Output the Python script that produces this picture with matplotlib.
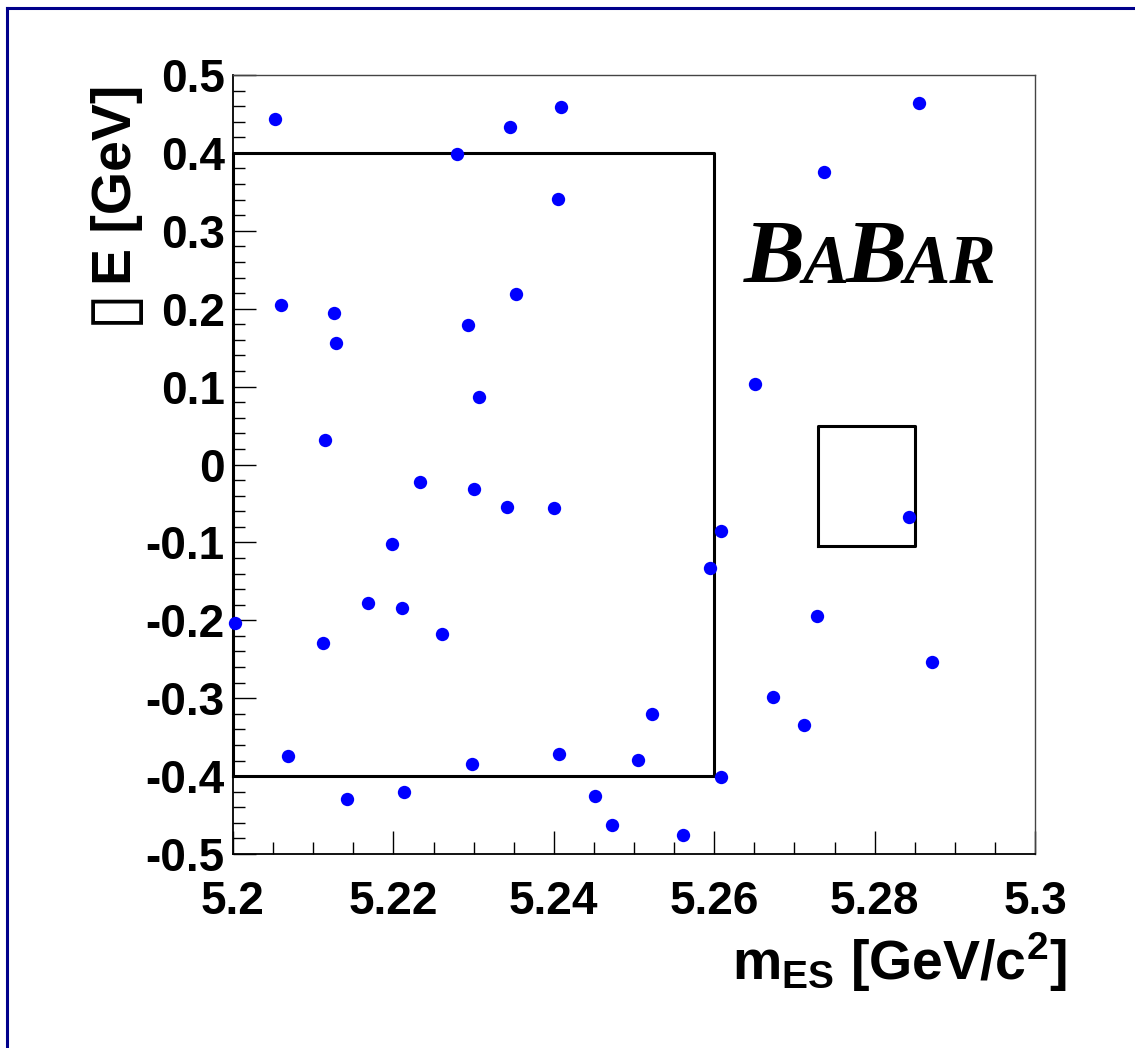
import matplotlib
matplotlib.use('Agg')
import matplotlib.pyplot as plt
from matplotlib.ticker import MultipleLocator
from matplotlib.lines import Line2D

plt.rcParams['font.family'] = ['Liberation Sans', 'DejaVu Sans']
plt.rcParams['font.weight'] = 'bold'
plt.rcParams['mathtext.fontset'] = 'custom'
plt.rcParams['mathtext.rm'] = 'Liberation Sans:bold'
plt.rcParams['mathtext.it'] = 'Liberation Sans:bold'
plt.rcParams['mathtext.bf'] = 'Liberation Sans:bold'

# candidate events (mES, deltaE)
mes = [5.2052, 5.2279, 5.2345, 5.2409, 5.2405, 5.2060, 5.2126, 5.2128, 5.2293, 5.2353,
       5.2307, 5.2115, 5.2003, 5.2069, 5.2112, 5.2168, 5.2211, 5.2198, 5.2233, 5.2301,
       5.2342, 5.2400, 5.2261, 5.2298, 5.2407, 5.2142, 5.2213, 5.2451, 5.2473, 5.2505,
       5.2522, 5.2561, 5.2609, 5.2595, 5.2608, 5.2728, 5.2673, 5.2712, 5.2872, 5.2843,
       5.2855, 5.2737, 5.2651]
de = [0.443, 0.399, 0.433, 0.459, 0.341, 0.205, 0.194, 0.156, 0.179, 0.219,
      0.087, 0.031, -0.203, -0.374, -0.229, -0.178, -0.184, -0.102, -0.023, -0.031,
      -0.055, -0.056, -0.218, -0.384, -0.372, -0.429, -0.421, -0.426, -0.463, -0.379,
      -0.320, -0.476, -0.401, -0.133, -0.085, -0.195, -0.298, -0.334, -0.253, -0.067,
      0.464, 0.375, 0.103]

# sideband and signal regions
sideband_x = [5.20, 5.26]
sideband_y = [-0.40, 0.40]
signal_x = [5.273, 5.285]
signal_y = [-0.105, 0.05]

xticks = [5.2, 5.22, 5.24, 5.26, 5.28, 5.3]
xticklabels = ['5.2', '5.22', '5.24', '5.26', '5.28', '5.3']
yticks = [-0.5, -0.4, -0.3, -0.2, -0.1, 0, 0.1, 0.2, 0.3, 0.4, 0.5]
yticklabels = ['-0.5', '-0.4', '-0.3', '-0.2', '-0.1', '0', '0.1', '0.2', '0.3', '0.4', '0.5']

fig = plt.figure(figsize=(11.35, 10.48), dpi=100)
ax = fig.add_axes([233 / 1135, 194 / 1048, 802 / 1135, 779 / 1048])

ax.plot(mes, de, 'o', color='#0000ff', markersize=9.6, markeredgewidth=0, clip_on=False, zorder=3)

for bx, by in [(sideband_x, sideband_y), (signal_x, signal_y)]:
    ax.plot([bx[0], bx[1], bx[1], bx[0], bx[0]], [by[0], by[0], by[1], by[1], by[0]],
            color='black', lw=2.2, zorder=2, clip_on=False)

ax.set_xlim(5.2, 5.3)
ax.set_ylim(-0.5, 0.5)
ax.xaxis.set_minor_locator(MultipleLocator(0.005))
ax.yaxis.set_minor_locator(MultipleLocator(0.02))
ax.set_xticks(xticks)
ax.set_xticklabels(xticklabels)
ax.set_yticks(yticks)
ax.set_yticklabels(yticklabels)

ax.tick_params(which='both', direction='in', top=False, right=False, width=1.0, labelsize=33)
ax.tick_params(which='major', length=16.5)
ax.tick_params(which='minor', length=8.6)
ax.tick_params(axis='x', which='major', pad=19)
ax.tick_params(axis='y', which='major', pad=6)
for lab in ax.get_xticklabels() + ax.get_yticklabels():
    lab.set_fontweight('bold')

for s in ['left', 'bottom']:
    ax.spines[s].set_linewidth(1.3)
    ax.spines[s].set_color('black')
for s in ['top', 'right']:
    ax.spines[s].set_linewidth(1.0)
    ax.spines[s].set_color('#444444')

renderer = fig.canvas.get_renderer()

fig.text(1067 / 1135, (1048 - 980) / 1048, r'$m_{ES}$ [GeV/c$^{2}$]', fontsize=40,
         fontweight='bold', ha='right', va='baseline')

# y label: box glyph in front of "E [GeV]"
ylab = fig.text(117 / 1135, (1048 - 85) / 1048, 'E [GeV]', fontsize=40, fontweight='bold',
                rotation=90, ha='center', va='top')
yb = ylab.get_window_extent(renderer)
fig.text(111 / 1135, (yb.y0 - 1) / 1048, '\u25af', fontsize=49, rotation=90,
         ha='center', va='top', family='DejaVu Sans')

# BaBar logo, big B and small caps A / AR
x0 = 744
base = 1048 - 283
pieces = [('B', 66), ('A', 50), ('B', 66), ('AR', 50)]
for txt, size in pieces:
    t = fig.text(x0 / 1135, base / 1048, txt, fontsize=size, family='Liberation Serif',
                 fontweight='bold', style='italic', ha='left', va='baseline')
    bb = t.get_window_extent(renderer)
    x0 = bb.x1 - 3

# navy frame
fig.add_artist(Line2D([7 / 1135, 7 / 1135], [0, 1 - 8 / 1048], color='#00008b', lw=2.2))
fig.add_artist(Line2D([7 / 1135, 1], [1 - 8 / 1048, 1 - 8 / 1048], color='#00008b', lw=2.2))

fig.savefig('out.png', dpi=100)
